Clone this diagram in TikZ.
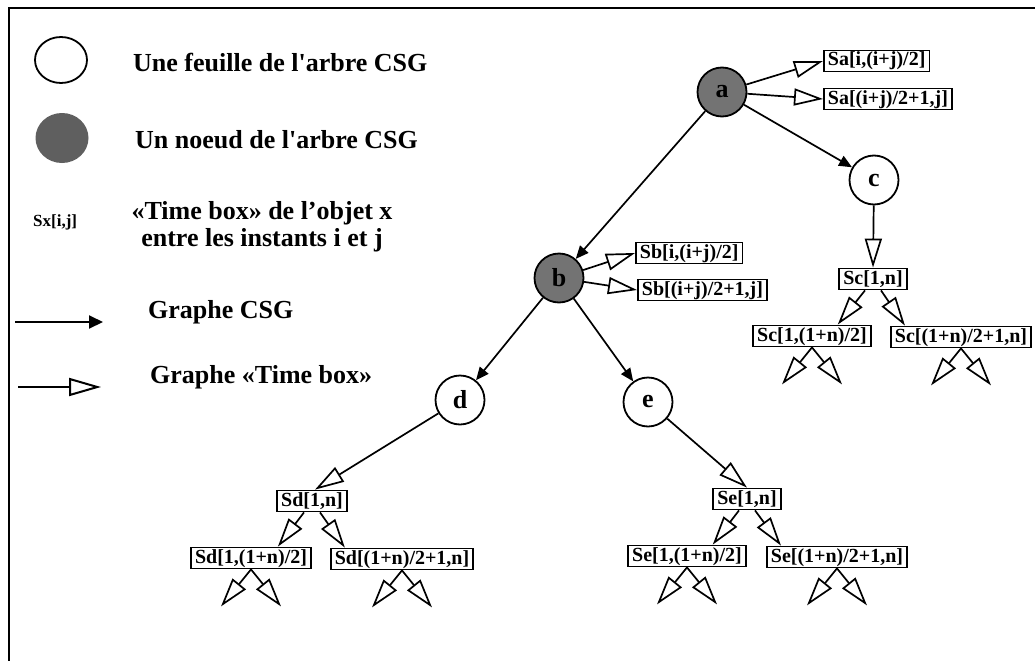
\documentclass[tikz,border=0pt]{standalone}
\usepackage{fontspec}
\setmainfont{Liberation Serif}
\usetikzlibrary{arrows.meta,shapes.geometric}
\definecolor{nodegray}{RGB}{115,115,115}
\definecolor{leggray}{RGB}{95,95,95}
\begin{document}
\begin{tikzpicture}[x=1pt,y=-1pt,
  leaf/.style={circle,draw,line width=1.8pt,minimum size=49pt,inner sep=0pt,font=\bfseries\fontsize{26}{26}\selectfont},
  innernode/.style={leaf,fill=nodegray},
  tbox/.style={draw,line width=1.8pt,inner xsep=4pt,inner ysep=1pt,text height=14.5pt,text depth=4.5pt,font=\bfseries\fontsize{20}{20}\selectfont},
  legtext/.style={anchor=west,inner sep=0pt,font=\bfseries\fontsize{26}{27}\selectfont},
  csg/.style={line width=1.7pt,-{Triangle[length=13pt,width=11pt]}},
  tb/.style={line width=1.7pt,-{Triangle[open,length=29pt,width=17pt]}},
]
\useasboundingbox (0,0) rectangle (1035,661);
% frame
\draw[line width=2.5pt] (1035,8) -- (9,8) -- (9,661);

% legend
\node[ellipse,draw,line width=1.8pt,minimum width=52pt,minimum height=46pt,inner sep=0pt] (legleaf) at (61,60) {};
\node[legtext] (legleaftxt) at (133,63) {Une feuille de l\textquotesingle arbre CSG};
\node[ellipse,fill=leggray,minimum width=53pt,minimum height=50pt,inner sep=0pt] (legnode) at (62,138) {};
\node[legtext] (legnodetxt) at (135,140) {Un noeud de l\textquotesingle arbre CSG};
\node[anchor=west,inner sep=0pt,font=\bfseries\fontsize{17}{17}\selectfont] (legsx) at (33,222) {Sx[i,j]};
\node[inner sep=0pt,align=center,font=\bfseries\fontsize{26}{27}\selectfont] (legsxtxt) at (262,227) {«Time box» de l’objet x\\ entre les instants i et j};
\coordinate (lcs) at (15,322);
\coordinate (lce) at (103,322);
\draw[line width=2pt,-{Triangle[length=14pt,width=13pt]}] (lcs) -- (lce);
\node[legtext] (legcsg) at (148,312) {Graphe CSG};
\coordinate (lts) at (18,387);
\coordinate (lte) at (101,387);
\draw[line width=2pt,-{Triangle[open,length=32pt,width=18pt]}] (lts) -- (lte);
\node[legtext] (legtb) at (150,377) {Graphe «Time box»};

% tree nodes
\node[innernode] (a) at (722,92) {a};
\node[leaf] (c) at (874,180) {c};
\node[innernode] (b) at (559,278) {b};
\node[leaf] (d) at (460,400) {d};
\node[leaf] (e) at (648,402) {e};

% time boxes
\node[tbox,anchor=west] (sa1) at (823,61) {Sa[i,(i+j)/2]};
\node[tbox,anchor=west] (sa2) at (823,99) {Sa[(i+j)/2+1,j]};
\node[tbox,anchor=west] (sb1) at (635,253) {Sb[i,(i+j)/2]};
\node[tbox,anchor=west] (sb2) at (637,290) {Sb[(i+j)/2+1,j]};
\node[tbox] (sc) at (873,279) {Sc[1,n]};
\node[tbox] (sc1) at (812,336) {Sc[1,(1+n)/2]};
\node[tbox] (sc2) at (961,337) {Sc[(1+n)/2+1,n]};
\node[tbox] (sd) at (312,501) {Sd[1,n]};
\node[tbox] (sd1) at (251,558) {Sd[1,(1+n)/2]};
\node[tbox] (sd2) at (402,559) {Sd[(1+n)/2+1,n]};
\node[tbox] (se) at (747,499) {Se[1,n]};
\node[tbox] (se1) at (687,556) {Se[1,(1+n)/2]};
\node[tbox] (se2) at (837,557) {Se[(1+n)/2+1,n]};

% CSG graph
\draw[csg] (a) -- (b);
\draw[csg] (a) -- (c);
\draw[csg] (b) -- (d);
\draw[csg] (b) -- (e);

% time box graph
\draw[tb] (a) -- (sa1.west);
\draw[tb] (a) -- (sa2.west);
\draw[tb] (b) -- (sb1.west);
\draw[tb] (b) -- (sb2.west);
\draw[tb] (c) -- (sc.north);
\draw[tb] (d) -- ([xshift=3pt]sd.north);
\draw[tb] (e) -- (se.north);

\foreach \p/\l/\r in {sc/sc1/sc2, sd/sd1/sd2, se/se1/se2}{
  \draw[tb] ([xshift=-8pt]\p.south) -- ([xshift=-34pt]\l.north east);
  \draw[tb] ([xshift=8pt]\p.south) -- ([xshift=15pt]\r.north west);
}

\foreach \q in {sc1,sc2,sd1,sd2,se1,se2}{
  \path (\q.south) ++(-30,37) coordinate (\q-l);
  \path (\q.south) ++(30,37) coordinate (\q-r);
  \draw[tb] (\q.south) -- (\q-l);
  \draw[tb] (\q.south) -- (\q-r);
}
\end{tikzpicture}
\end{document}
